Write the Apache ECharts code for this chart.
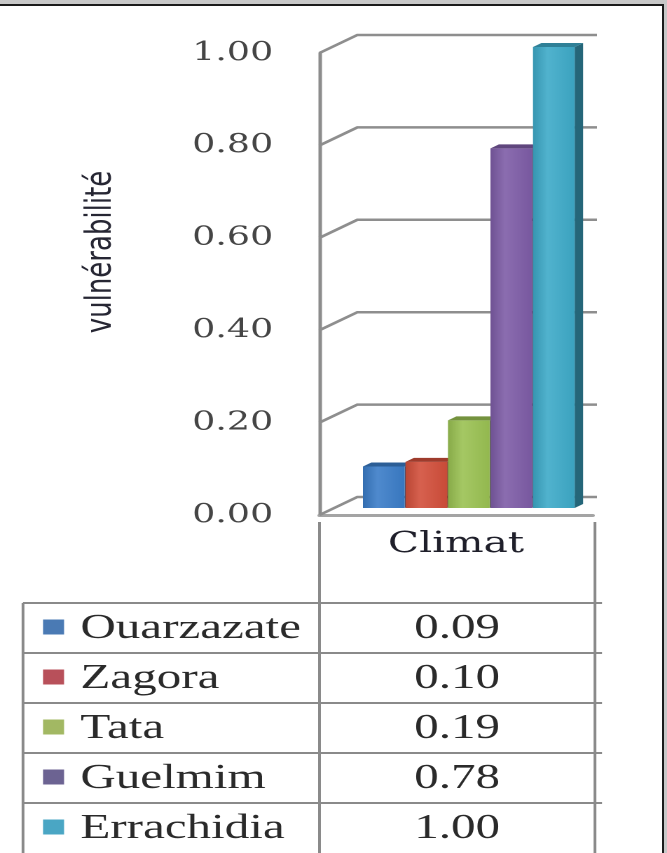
<!DOCTYPE html>
<html>
<head>
<meta charset="utf-8">
<script src="https://cdn.jsdelivr.net/npm/echarts@6/dist/echarts.min.js"></script>
<style>
  html, body { margin: 0; padding: 0; width: 667px; height: 853px; overflow: hidden; background: #c8c8c8; }
  #sheet { position: absolute; left: 0; top: 4px; width: 662px; height: 849px; background: #fff;
           border-top: 2px solid #1b1b1b; border-right: 2px solid #1b1b1b; }
  /* the figure is laid out on a narrow canvas and widened horizontally */
  #chart { position: absolute; left: 0; top: 0; width: 476px; height: 853px;
           transform: scaleX(1.40126); transform-origin: 0 0; }
</style>
</head>
<body>
<div id="sheet"></div>
<div id="chart"></div>
<script>
// ---- data ----
const categories = ['Climat'];
const cities = ['Ouarzazate', 'Zagora', 'Tata', 'Guelmim', 'Errachidia'];
const values = [0.09, 0.10, 0.19, 0.78, 1.00];
const yTicks = [0, 0.2, 0.4, 0.6, 0.8, 1.0];
const yTitle = 'vulnérabilité';

// ---- styling ----
const barColors = ['#3b7dc8', '#d24f3b', '#9bc253', '#7e5da7', '#3eaac9'];
const keyColors = ['#4a7ab4', '#b8505a', '#a2b863', '#6c6392', '#4aa6c4'];
const AXIS_X = 228;          // left wall / middle table column
const DEPTH_X = 27, DEPTH_Y = 18;
const WALL_LEN = 171;
const HEADER_H = 81;

function shade(hex, amt) {
  const n = parseInt(hex.slice(1), 16);
  let r = (n >> 16) & 255, g = (n >> 8) & 255, b = n & 255;
  const f = c => Math.max(0, Math.min(255, Math.round(amt < 0 ? c * (1 + amt) : c + (255 - c) * amt)));
  return 'rgb(' + f(r) + ',' + f(g) + ',' + f(b) + ')';
}

const chart = echarts.init(document.getElementById('chart'), null, { renderer: 'canvas', devicePixelRatio: 2 });

const option = {
  animation: false,
  backgroundColor: 'transparent',
  grid: [
    { left: AXIS_X, top: 53, width: 195, height: 462 },   // front axis frame
    { left: 259, top: 47, width: 151.7, height: 461 },    // bar block
    { left: 16.4, top: 603, width: 408.2, height: 256 }   // data table
  ],
  xAxis: [
    { gridIndex: 0, type: 'category', data: categories,
      axisLine: { show: true, lineStyle: { color: '#a4a4a4', width: 3 } },
      axisTick: { show: false },
      axisLabel: { margin: 15, color: '#1f1f2a', fontFamily: "'DejaVu Serif', serif", fontSize: 29 } },
    { gridIndex: 1, type: 'category', data: cities, show: false },
    { gridIndex: 2, type: 'value', min: 0, max: 1, show: false }
  ],
  yAxis: [
    { gridIndex: 0, type: 'value', min: 0, max: 1, interval: 0.2,
      axisLine: { show: true, lineStyle: { color: '#8c8c8c', width: 2.5 } },
      axisTick: { show: false }, splitLine: { show: false },
      axisLabel: { margin: 33, formatter: v => v.toFixed(2), color: '#454545',
                   fontFamily: "'DejaVu Serif', serif", fontSize: 26 } },
    { gridIndex: 1, type: 'value', min: 0, max: 1, show: false },
    { gridIndex: 2, type: 'category', data: cities, inverse: true, show: false }
  ],
  graphic: [
    { type: 'text', x: 72, y: 252, rotation: Math.PI / 2,
      style: { text: yTitle, fontFamily: "'DejaVu Sans', sans-serif", fontSize: 26,
               fill: '#262633', align: 'center', verticalAlign: 'middle' } }
  ],
  series: [
    // back-wall gridlines with their receding segment
    { type: 'custom', xAxisIndex: 0, yAxisIndex: 0, silent: true, clip: false, z: 1,
      data: yTicks.map(v => [0, v]),
      renderItem(params, api) {
        const y = api.coord([0, api.value(1)])[1];
        const x0 = params.coordSys.x;
        return { type: 'polyline',
          shape: { points: [[x0, y], [x0 + DEPTH_X, y - DEPTH_Y], [x0 + DEPTH_X + WALL_LEN, y - DEPTH_Y]] },
          style: { stroke: '#8e8e8e', lineWidth: 2.5, fill: null } };
      } },
    // columns
    { type: 'custom', xAxisIndex: 1, yAxisIndex: 1, silent: true, clip: false, z: 3,
      data: values.map((v, i) => [i, v]),
      renderItem(params, api) {
        const i = api.value(0), v = api.value(1);
        const top = api.coord([i, v]);
        const base = api.coord([i, 0]);
        const band = api.size([1, 0])[0];
        const w = band - 0.6, sd = 6, sh = 4;
        const x0 = top[0] - band / 2, yT = top[1], yB = base[1];
        const c = barColors[i];
        const grad = new echarts.graphic.LinearGradient(0, 0, 1, 0, [
          { offset: 0, color: shade(c, -0.12) },
          { offset: 0.35, color: shade(c, 0.1) },
          { offset: 1, color: shade(c, -0.05) }
        ]);
        return { type: 'group', children: [
          { type: 'polygon', shape: { points: [[x0 + w, yB], [x0 + w + sd, yB - sh], [x0 + w + sd, yT - sh], [x0 + w, yT]] },
            style: { fill: shade(c, -0.4) } },
          { type: 'rect', shape: { x: x0, y: yT, width: w, height: yB - yT }, style: { fill: grad } },
          { type: 'polygon', shape: { points: [[x0, yT], [x0 + w, yT], [x0 + w + sd, yT - sh], [x0 + sd, yT - sh]] },
            style: { fill: shade(c, -0.25) } }
        ] };
      } },
    // data table under the plot
    { type: 'custom', xAxisIndex: 2, yAxisIndex: 2, silent: true, clip: false, z: 2,
      data: cities.map((c, i) => [0, i, values[i]]),
      renderItem(params, api) {
        const idx = api.value(1);
        const cy = api.coord([0, idx])[1];
        const rowH = api.size([0, 1])[1];
        const cs = params.coordSys;
        const xL = cs.x, xR = cs.x + cs.width, xM = AXIS_X;
        const yTop = cy - rowH / 2, yBot = yTop + rowH;
        const line = (x1, y1, x2, y2) => ({ type: 'line', shape: { x1, y1, x2, y2 },
          style: { stroke: '#8a8a8a', lineWidth: 2 } });
        const vTop = idx === 0 ? yTop - HEADER_H : yTop;
        return { type: 'group', children: [
          line(xL, yTop, xR + 5, yTop),
          line(xL, yTop, xL, yBot),
          line(xM, vTop, xM, yBot),
          line(xR, vTop, xR, yBot),
          { type: 'rect', shape: { x: xL + 14.3, y: cy - 8.5, width: 15, height: 15 },
            style: { fill: keyColors[idx] } },
          { type: 'text', x: xL + 41, y: cy + 1,
            style: { text: cities[idx], fontFamily: "'Liberation Serif', serif", fontSize: 35,
                     fill: '#2a2a2a', align: 'left', verticalAlign: 'middle' } },
          { type: 'text', x: (xM + xR) / 2, y: cy + 1,
            style: { text: api.value(2).toFixed(2), fontFamily: "'Liberation Serif', serif", fontSize: 35,
                     fill: '#2a2a2a', align: 'center', verticalAlign: 'middle' } }
        ] };
      } }
  ]
};

chart.setOption(option);
</script>
</body>
</html>
